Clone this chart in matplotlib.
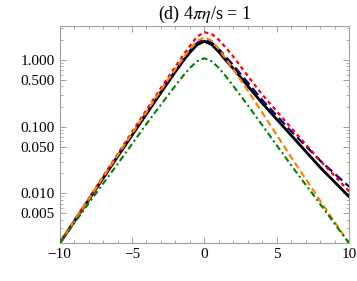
import matplotlib
matplotlib.use("Agg")
import matplotlib.pyplot as plt
from matplotlib.ticker import FixedLocator, FixedFormatter, LogLocator, MultipleLocator, NullFormatter

# values (log-scale y)
x = [-10, -8, -6, -4, -3, -2, -1.5, -1, -0.5, 0, 0.5, 1, 1.5, 2, 3, 4, 6, 8, 10]
black = [0.00178, 0.00794, 0.0355, 0.155, 0.324, 0.668, 0.944, 1.30, 1.69, 1.90,
         1.70, 1.32, 0.977, 0.741, 0.407, 0.224, 0.0741, 0.0245, 0.00891]
blue = [0.00182, 0.00813, 0.0363, 0.162, 0.339, 0.700, 0.993, 1.38, 1.81, 2.04,
        1.82, 1.45, 1.10, 0.832, 0.457, 0.251, 0.0851, 0.0309, 0.0126]
red = [0.0018, 0.00832, 0.0385, 0.178, 0.380, 0.794, 1.15, 1.62, 2.24, 2.60,
       2.45, 2.00, 1.51, 1.12, 0.575, 0.302, 0.0955, 0.0309, 0.0107]
orange = [0.00178, 0.00813, 0.0372, 0.166, 0.355, 0.731, 1.04, 1.46, 1.92, 2.18,
          1.95, 1.45, 1.02, 0.724, 0.347, 0.162, 0.0347, 0.00776, 0.00178]
green = [0.00178, 0.00708, 0.0275, 0.110, 0.214, 0.413, 0.566, 0.759, 0.959, 1.06,
         0.955, 0.759, 0.562, 0.407, 0.209, 0.105, 0.0263, 0.00692, 0.00178]

ytick_vals = [0.005, 0.01, 0.05, 0.1, 0.5, 1.0]
ytick_labels = ["0.005", "0.010", "0.050", "0.100", "0.500", "1.000"]
xtick_vals = [-10, -5, 0, 5, 10]
xtick_labels = ["\u221210", "\u22125", "0", "5", "10"]

plt.rcParams["font.family"] = ["Liberation Serif", "DejaVu Serif"]
plt.rcParams["mathtext.fontset"] = "stix"

fig = plt.figure(figsize=(3.57, 2.81), dpi=100)
ax = fig.add_axes([0.167, 0.136, 0.811, 0.772])

ax.plot(x, black, color="black", lw=2.0, zorder=2)
ax.plot(x, blue, color="#000080", lw=1.6, dashes=(4, 2), zorder=3)
ax.plot(x, red, color="#ff0000", lw=1.6, dashes=(1.8, 1.5), zorder=3)
ax.plot(x, orange, color="#ff8000", lw=1.6, dashes=(3, 1.6), zorder=4)
ax.plot(x, green, color="#008000", lw=1.5, dashes=(3, 1.5, 1, 1.5), zorder=4)

ax.set_yscale("log")
ax.set_xlim(-10, 10)
ax.set_ylim(0.00182, 3.24)

ax.xaxis.set_major_locator(FixedLocator(xtick_vals))
ax.xaxis.set_major_formatter(FixedFormatter(xtick_labels))
ax.xaxis.set_minor_locator(MultipleLocator(1))
ax.yaxis.set_major_locator(FixedLocator(ytick_vals))
ax.yaxis.set_major_formatter(FixedFormatter(ytick_labels))
ax.yaxis.set_minor_locator(LogLocator(base=10, subs=range(2, 10)))
ax.yaxis.set_minor_formatter(NullFormatter())

for s in ax.spines.values():
    s.set_color("#a0a0a0")
    s.set_linewidth(0.8)
ax.tick_params(which="both", direction="in", color="#a0a0a0", top=True, right=True,
               labelsize=11, labelcolor="black")
ax.tick_params(which="major", length=4, width=0.7)
ax.tick_params(which="minor", length=2, width=0.6)
ax.tick_params(axis="x", pad=4)

ax.set_title(r"(d) 4$\pi\eta$/s = 1", fontsize=13, pad=5)

fig.savefig("out.png", dpi=100)
